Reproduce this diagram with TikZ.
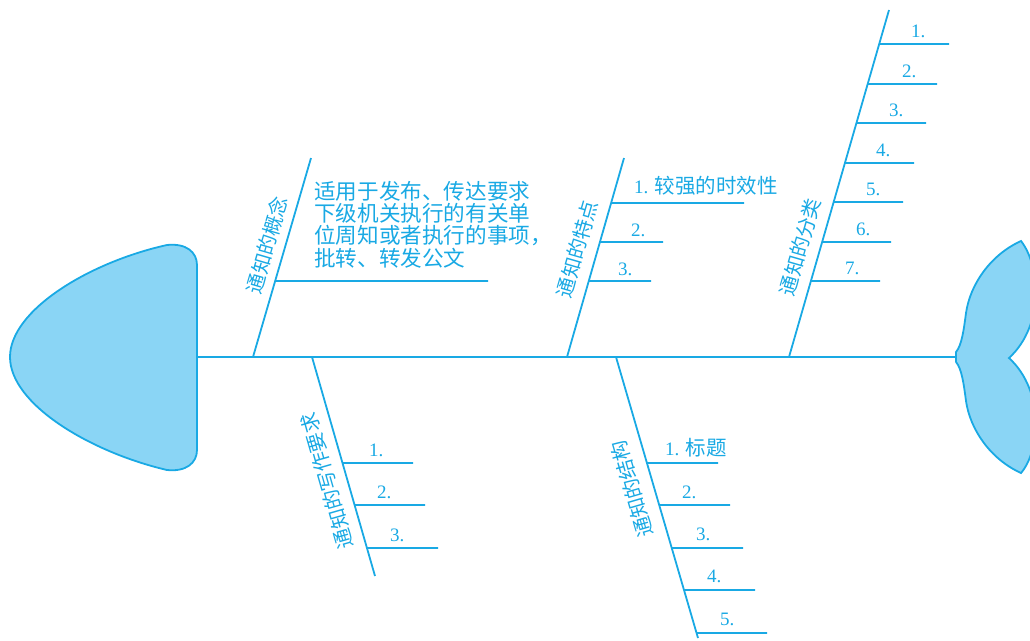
\documentclass[tikz,border=0pt]{standalone}
\usepackage{fontspec}
\setmainfont{Liberation Serif}
\newfontfamily\cjk{Noto Sans CJK SC}
\usetikzlibrary{calc}
\definecolor{fbline}{HTML}{19A9E4}
\definecolor{fbfill}{HTML}{8AD5F5}
\begin{document}
\begin{tikzpicture}[x=1pt,y=-1pt,
  bone/.style={draw=fbline,line width=1.8pt},
  body/.style={draw=fbline,line width=1.8pt,fill=fbfill},
  lbl/.style={text=fbline,font=\cjk\fontsize{20}{24}\selectfont,inner sep=0pt},
  num/.style={text=fbline,font=\fontsize{19}{21}\selectfont,inner sep=0pt,anchor=base west},
  txt/.style={text=fbline,font=\cjk\fontsize{21.6}{24}\selectfont,inner sep=0pt,anchor=west}]
\useasboundingbox (0,0) rectangle (1030,640);
\clip (0,0) rectangle (1030,640);
% head and tail
\path[body] (197,265) .. controls (197,252) and (186,243) .. (167,245)
  .. controls (90,262) and (10,310) .. (10,357)
  .. controls (10,404) and (90,452) .. (167,470)
  .. controls (186,472) and (197,463) .. (197,450) -- cycle;
\path[body] (956,362) -- (956,352) .. controls (962,345) and (964,328) .. (966,313)
  .. controls (970,285) and (990,255) .. (1021,241)
  .. controls (1040,265) and (1045,325) .. (1009,358)
  .. controls (1045,391) and (1040,451) .. (1021,473)
  .. controls (990,459) and (970,429) .. (966,401)
  .. controls (964,386) and (962,369) .. (956,362);
% spine
\coordinate (hd) at (197,357);
\coordinate (tl) at (956,357);
\draw[bone] (hd) -- (tl);
% bones
\coordinate (b1s) at (253,357); \coordinate (b1e) at (311,158);
\coordinate (b2s) at (567,357); \coordinate (b2e) at (624,158);
\coordinate (b3s) at (789,357); \coordinate (b3e) at (889,10);
\coordinate (b4s) at (312,357); \coordinate (b4e) at (375,576);
\coordinate (b5s) at (616,357); \coordinate (b5e) at (698,638);
\foreach \b in {1,...,5} {\draw[bone] (b\b s) -- (b\b e);}
% bone 1
\pgfmathsetmacro\fa{(357-281)/199}
\coordinate (s11) at ($(b1s)!\fa!(b1e)$);
\coordinate (e11) at (488,281);
\draw[bone] (s11) -- (e11);
\node[txt] (t1) at (314,191) {适用于发布、传达要求};
\node[txt] (t2) at (314,213.5) {下级机关执行的有关单};
\node[txt] (t3) at (314,236) {位周知或者执行的事项，};
\node[txt] (t4) at (314,258.5) {批转、转发公文};
\node[lbl,rotate=73.8] (l1) at (267,245) {通知的概念};
% bone 2
\foreach \i/\y/\x in {1/203/744,2/242/663,3/281/651} {
  \pgfmathsetmacro\fa{(357-\y)/199}
  \coordinate (s2\i) at ($(b2s)!\fa!(b2e)$);
  \coordinate (e2\i) at (\x,\y);
  \draw[bone] (s2\i) -- (e2\i);
}
\node[num] (n21) at (634,193) {1. {\cjk\fontsize{20.5}{24}\selectfont 较强的时效性}};
\node[num] (n22) at (631,236) {2.};
\node[num] (n23) at (618,275) {3.};
\node[lbl,rotate=73.9] (l2) at (577,249) {通知的特点};
% bone 3
\foreach \i/\y/\x/\lx in {1/44/949/911,2/84/937/902,3/123/926/889,4/163/914/876,5/202/903/866,6/242/891/856,7/281/880/845} {
  \pgfmathsetmacro\fa{(357-\y)/347}
  \coordinate (s3\i) at ($(b3s)!\fa!(b3e)$);
  \coordinate (e3\i) at (\x,\y);
  \draw[bone] (s3\i) -- (e3\i);
  \node[num] (n3\i) at (\lx,\y-7) {\i.};
}
\node[lbl,rotate=73.9] (l3) at (800,247) {通知的分类};
% bone 4
\foreach \i/\y/\x/\lx in {1/463/413/369,2/505/425/377,3/548/438/390} {
  \pgfmathsetmacro\fa{(\y-357)/219}
  \coordinate (s4\i) at ($(b4s)!\fa!(b4e)$);
  \coordinate (e4\i) at (\x,\y);
  \draw[bone] (s4\i) -- (e4\i);
  \node[num] (n4\i) at (\lx,\y-7) {\i.};
}
\node[lbl,rotate=106] (l4) at (327,481) {通知的写作要求};
% bone 5
\foreach \i/\y/\x in {1/463/718,2/505/730,3/548/743,4/590/755,5/633/767} {
  \pgfmathsetmacro\fa{(\y-357)/281}
  \coordinate (s5\i) at ($(b5s)!\fa!(b5e)$);
  \coordinate (e5\i) at (\x,\y);
  \draw[bone] (s5\i) -- (e5\i);
}
\node[num] (n51) at (665,455) {1. {\cjk\fontsize{20.5}{24}\selectfont 标题}};
\node[num] (n52) at (682,498) {2.};
\node[num] (n53) at (696,540) {3.};
\node[num] (n54) at (707,582) {4.};
\node[num] (n55) at (720,625) {5.};
\node[lbl,rotate=106.3] (l5) at (632,489) {通知的结构};
\end{tikzpicture}
\end{document}
